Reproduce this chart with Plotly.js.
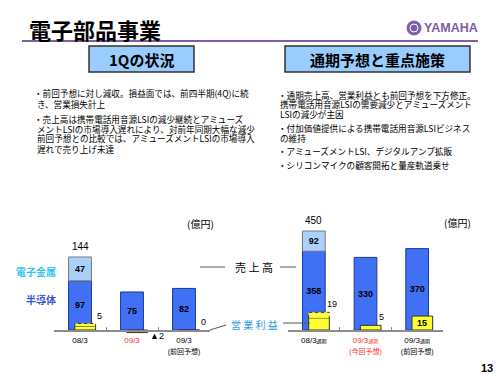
<!DOCTYPE html>
<html><head><meta charset="utf-8">
<script src="https://cdn.plot.ly/plotly-3.0.1.min.js"></script>
<style>html,body{margin:0;padding:0;background:#fff}#chart{width:500px;height:375px}</style>
</head><body><div id="chart"></div>
<script>
// ---------------- data ----------------
const periodQ = ['08/3', '09/3', '09/3'];
const noteQ = ['', '', '(前回予想)'];
const hiliteQ = [false, true, false];
const semiQ = [97, 75, 82];          // 半導体 売上高 (億円)
const metalQ = [47, null, null];     // 電子金属 売上高
const totalQ = [144, null, null];
const opQ = [5, -2, 0];              // 営業利益
const opQsolid = [3, -2, 0];
const opQdash = [2, null, null];
const opQinside = [false, false, false];

const periodY = ['08/3', '09/3', '09/3'];
const suffixY = '通期';
const noteY = ['', '(今回予想)', '(前回予想)'];
const hiliteY = [false, true, false];
const semiY = [358, 330, 370];
const metalY = [92, null, null];
const totalY = [450, null, null];
const opY = [19, 5, 15];
const opYsolid = [13, 5, 15];
const opYdash = [6, null, null];
const opYinside = [false, false, true];

const leftText = [
  '・前回予想に対し減収。損益面では、前四半期(4Q)に続',
  'き、営業損失計上',
  '・売上高は携帯電話用音源LSIの減少継続とアミューズ',
  'メントLSIの市場導入遅れにより、対前年同期大幅な減少',
  '前回予想との比較では、アミューズメントLSIの市場導入',
  '遅れで売り上げ未達'
];
const rightText = [
  '・通期売上高、営業利益とも前回予想を下方修正。',
  '携帯電話用音源LSIの需要減少とアミューズメント',
  'LSIの減少が主因',
  '・付加価値提供による携帯電話用音源LSIビジネス',
  'の維持',
  '・アミューズメントLSI、デジタルアンプ拡販',
  '・シリコンマイクの顧客開拓と量産軌道乗せ'
];

// ---------------- layout helpers ----------------
const W = 500, H = 375;
const px = x => x / W, py = y => 1 - y / H;
const TOP = 215, BASE = 330, BOT = 340;
const yr = s => [-(BOT - BASE) / s, (BASE - TOP) / s];
const JP = '"Noto Sans CJK JP", sans-serif';
const NUM = '"Liberation Sans", "Noto Sans CJK JP", sans-serif';
const BLUE = '#4070f4', BLUE_LINE = '#1c3a9e', LBLUE = '#a9d1fb', YEL = '#ffff33';
const SW = 0.44, OW = 0.40, OOFF = -0.10;
const fmt = v => v < 0 ? '▲' + (-v) : String(v);

const traces = [];
const annotations = [];
const shapes = [];

function addChart(xa, ys, yo, semi, metal, total, opSolid, opDash, opAll, inside, lblShift) {
  const xs = semi.map((_, i) => i);
  traces.push({type: 'bar', x: xs, y: semi, width: SW, xaxis: xa, yaxis: ys,
    marker: {color: BLUE, line: {color: BLUE_LINE, width: 1}},
    text: semi.map(String), textposition: 'inside', insidetextanchor: 'middle', constraintext: 'none',
    textfont: {family: NUM, size: 9, color: '#000', weight: 'bold'}, hoverinfo: 'skip'});
  traces.push({type: 'bar', x: xs, y: metal, base: semi, width: SW, xaxis: xa, yaxis: ys,
    marker: {color: LBLUE, line: {color: '#7a7a7a', width: 1}},
    text: metal.map(v => v == null ? '' : String(v)), textposition: 'inside', insidetextanchor: 'middle', constraintext: 'none',
    textfont: {family: NUM, size: 9, color: '#000', weight: 'bold'}, hoverinfo: 'skip'});
  traces.push({type: 'bar', x: xs, y: opSolid, width: OW, offset: OOFF, xaxis: xa, yaxis: yo,
    marker: {color: YEL, line: {color: '#333', width: 1}}, hoverinfo: 'skip'});
  traces.push({type: 'bar', x: xs, y: opDash, base: opSolid, width: OW, offset: OOFF, xaxis: xa, yaxis: yo,
    marker: {color: YEL, line: {width: 0}}, hoverinfo: 'skip'});
  const dx = [], dy = [];
  opDash.forEach((d, i) => {
    if (d == null) return;
    const l = i + OOFF, r = i + OOFF + OW, s = opSolid[i], t = opSolid[i] + d;
    dx.push(l, l, r, r, null); dy.push(s, t, t, s, null);
  });
  traces.push({type: 'scatter', mode: 'lines', x: dx, y: dy, xaxis: xa, yaxis: yo,
    line: {color: '#333', width: 1, dash: 'dot'}, hoverinfo: 'skip', showlegend: false});
  total.forEach((t, i) => {
    if (t == null) return;
    annotations.push({xref: xa, yref: ys, x: i, y: t, text: String(t), showarrow: false,
      yanchor: 'bottom', yshift: 3, font: {family: NUM, size: 10, color: '#000'}});
  });
  opAll.forEach((v, i) => {
    if (inside[i]) {
      annotations.push({xref: xa, yref: yo, x: i + OOFF + OW / 2, y: v / 2, text: fmt(v), showarrow: false,
        font: {family: NUM, size: 9, color: '#000', weight: 'bold'}});
    } else if (v < 0) {
      annotations.push({xref: xa, yref: yo, x: i + OOFF + OW, y: v, text: fmt(v), showarrow: false,
        xanchor: 'left', yanchor: 'middle', xshift: 0, yshift: -3, font: {family: NUM, size: 9, color: '#000'}});
    } else {
      annotations.push({xref: xa, yref: yo, x: i + OOFF + OW, y: v, text: fmt(v), showarrow: false,
        xanchor: 'left', yanchor: 'bottom', xshift: lblShift, yshift: 1, font: {family: NUM, size: 9, color: '#000'}});
    }
  });
}
addChart('x', 'y', 'y2', semiQ, metalQ, totalQ, opQsolid, opQdash, opQ, opQinside, -1);
addChart('x2', 'y3', 'y4', semiY, metalY, totalY, opYsolid, opYdash, opY, opYinside, -4);

const red = s => '<span style="color:#ff3333">' + s + '</span>';
const small = (s, n) => '<span style="font-size:' + n + 'px">' + s + '</span>';
const tickQ = periodQ.map((p, i) => {
  let s = p + (noteQ[i] ? '<br>' + small(noteQ[i], 7) : '');
  return hiliteQ[i] ? red(s) : s;
});
const tickY = periodY.map((p, i) => {
  let s = p + small(suffixY, 5) + (noteY[i] ? '<br>' + small(noteY[i], 7) : '');
  return hiliteY[i] ? red(s) : s;
});

function xaxis(dom, ticks) {
  return {domain: dom, range: [-0.5, 2.5], anchor: 'free', position: py(BASE),
    tickmode: 'array', tickvals: [0, 1, 2], ticktext: ticks, ticks: '',
    showline: true, linecolor: '#8c8c8c', linewidth: 1.5, showgrid: false, zeroline: false,
    tickfont: {family: NUM, size: 8, color: '#000'}, ticklabelstandoff: 2,
    minor: {tickmode: 'array', tickvals: [0.5, 1.5], ticks: 'inside', ticklen: 3, tickcolor: '#8c8c8c', tickwidth: 1, showgrid: false},
    fixedrange: true};
}
const yd = [py(BOT), py(TOP)];
const yax = (r, extra) => Object.assign({range: r, visible: false, showgrid: false, zeroline: false, fixedrange: true}, extra);

// ---------- page decorations ----------
function txt(text, x, y, size, opts) {
  annotations.push(Object.assign({xref: 'paper', yref: 'paper', x: px(x), y: py(y), text: text, showarrow: false,
    xanchor: 'left', yanchor: 'middle', font: {family: JP, size: size, color: '#000'}}, opts || {}));
}
function line(x0, y0, x1, y1, color, w, dash) {
  shapes.push({type: 'line', xref: 'paper', yref: 'paper', x0: px(x0), y0: py(y0), x1: px(x1), y1: py(y1),
    line: {color: color, width: w, dash: dash || 'solid'}});
}
// title
txt('電子部品事業', 27, 29, 22, {font: {family: JP, size: 22, color: '#000', weight: 'bold'}});
line(22, 41, 478, 41, '#7d5ca8', 2);
// logo
shapes.push({type: 'circle', xref: 'paper', yref: 'paper', x0: px(407), x1: px(421), y0: py(35), y1: py(21),
  fillcolor: '#7d5ca8', line: {color: '#7d5ca8', width: 1}});
shapes.push({type: 'circle', xref: 'paper', yref: 'paper', x0: px(410), x1: px(418), y0: py(32), y1: py(24),
  fillcolor: 'rgba(0,0,0,0)', line: {color: '#ffffff', width: 1}});
txt('YAMAHA', 422, 28, 12.5, {font: {family: '"Liberation Sans Narrow", "Liberation Sans", sans-serif', size: 12.5, color: '#7d5ca8', weight: 'bold'}});
// header boxes
shapes.push({type: 'rect', xref: 'paper', yref: 'paper', x0: px(89), x1: px(194), y0: py(72), y1: py(46),
  fillcolor: '#99ccff', line: {color: '#333', width: 1.5}});
shapes.push({type: 'rect', xref: 'paper', yref: 'paper', x0: px(285), x1: px(470), y0: py(72), y1: py(46),
  fillcolor: '#99ccff', line: {color: '#333', width: 1.5}});
txt('1Qの状況', 141.5, 59, 15, {xanchor: 'center', font: {family: JP, size: 15, color: '#000', weight: 'bold'}});
txt('通期予想と重点施策', 377.5, 59, 15, {xanchor: 'center', font: {family: JP, size: 15, color: '#000', weight: 'bold'}});
// bullet text
const BF = 8.6;
const leftY = [93, 103.5, 118.5, 128.5, 138.5, 148.5];
leftText.forEach((s, i) => txt(s, s.startsWith('・') ? 32 : 35, leftY[i], BF));
const rightY = [95, 104.5, 114, 128, 137.5, 151, 165];
rightText.forEach((s, i) => txt(s, s.startsWith('・') ? 276 : 278, rightY[i], BF));
// chart labels
txt('(億円)', 185, 223, 10);
txt('(億円)', 442, 222, 10);
txt('電子金属', 36, 271, 10, {xanchor: 'center', font: {family: JP, size: 10, color: '#33c4f0', weight: 'bold'}});
txt('半導体', 41, 299, 10, {xanchor: 'center', font: {family: JP, size: 10, color: '#3355cc', weight: 'bold'}});
txt('売 上 高', 253.5, 267, 11, {xanchor: 'center'});
line(200, 267, 225, 267, '#555', 1);
line(280, 267, 296, 267, '#555', 1);
txt('営 業 利 益', 254.5, 324, 10, {xanchor: 'center', font: {family: JP, size: 10, color: '#3399dd'}});
line(210, 330, 226, 325, '#555', 1);
line(283, 323, 310, 323, '#555', 1);
txt('13', 487, 368, 11, {xanchor: 'center', font: {family: NUM, size: 11, color: '#000', weight: 'bold'}});

const layout = {
  width: W, height: H, margin: {l: 0, r: 0, t: 0, b: 0},
  paper_bgcolor: '#fff', plot_bgcolor: 'rgba(0,0,0,0)',
  barmode: 'overlay', showlegend: false,
  xaxis: xaxis([px(54), px(210)], tickQ),
  xaxis2: xaxis([px(288), px(443)], tickY),
  yaxis: yax(yr(0.507), {domain: yd, anchor: 'x'}),
  yaxis2: yax(yr(1.3), {overlaying: 'y', anchor: 'x'}),
  yaxis3: yax(yr(0.22), {domain: yd, anchor: 'x2'}),
  yaxis4: yax(yr(0.93), {overlaying: 'y3', anchor: 'x2'}),
  annotations: annotations, shapes: shapes
};
Plotly.newPlot('chart', traces, layout, {staticPlot: true, displayModeBar: false});
</script>
</body></html>
